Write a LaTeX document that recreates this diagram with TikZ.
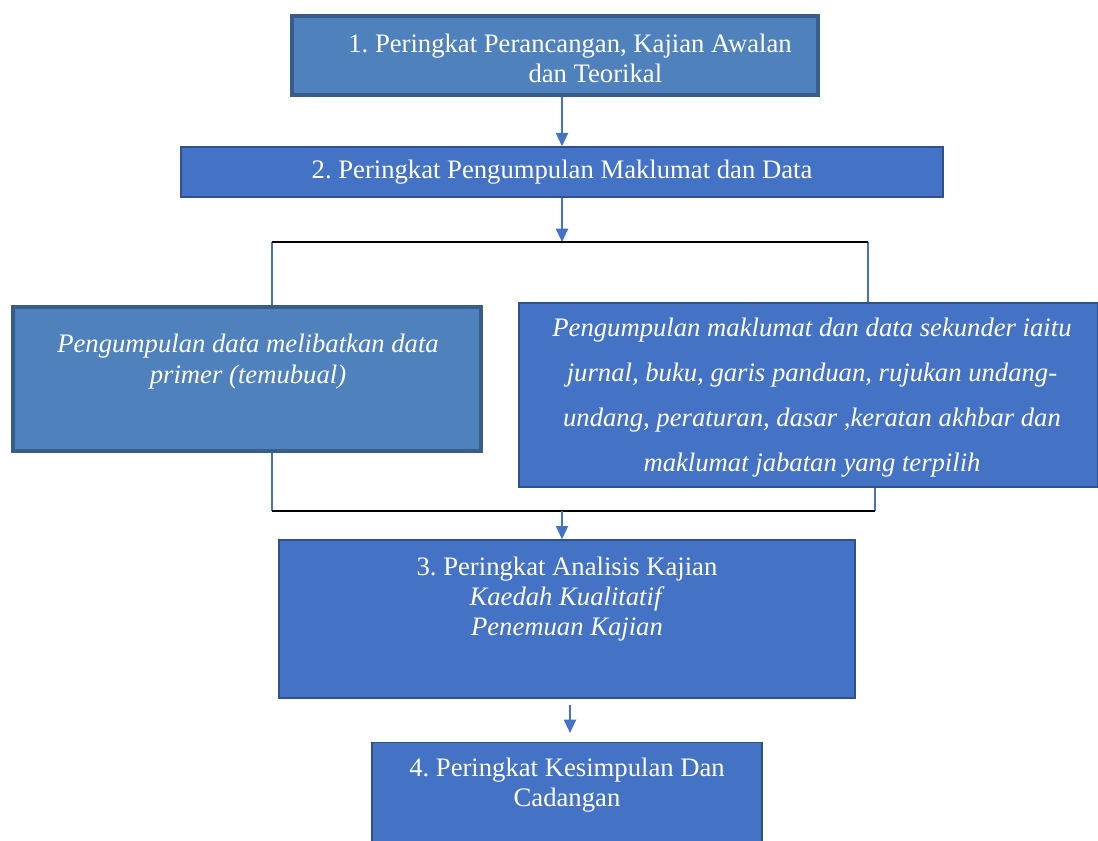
\documentclass[tikz,border=0pt]{standalone}
\usepackage{fontspec}
\newfontfamily\stagefont{Liberation Serif}
\usetikzlibrary{positioning}
\usetikzlibrary{arrows.meta}
\definecolor{boxlight}{RGB}{79,129,189}
\definecolor{boxdark}{RGB}{68,114,196}
\definecolor{edgedark}{RGB}{56,93,138}
\definecolor{edgethin}{RGB}{47,82,143}
\definecolor{linkblue}{RGB}{68,114,196}
\newdimen\pxu \pxu=0.75pt

\begin{document}
\frenchspacing
\begin{tikzpicture}[x=0.75pt, y=-0.75pt, >={Triangle[length=10pt,width=9pt]},
stagebox/.style={draw=edgedark, line width=3pt, fill=boxlight, inner sep=0pt},
stageflat/.style={draw=edgethin, line width=1pt, fill=boxdark, inner sep=0pt},
txt/.style={text=white, font=\stagefont\fontsize{20}{22.5}\selectfont, align=center, inner sep=0pt},
itxt/.style={text=white, font=\stagefont\fontsize{20}{22.5}\selectfont\itshape, align=center, inner sep=0pt},
link/.style={linkblue, line width=1.5pt, ->},
branch/.style={linkblue, line width=0.8pt},
bar/.style={black, line width=1pt}]

\useasboundingbox (0,0) rectangle (1098,841);

%% boxes
\node[stagebox, minimum width=526\pxu, minimum height=79\pxu] (b1) at (555,55.5) {};
\node[txt] (t1) at (570,58) {1. Peringkat Perancangan, Kajian Awalan\\\hspace*{38pt}dan Teorikal};

\node[stageflat, minimum width=762\pxu, minimum height=50\pxu] (b2) at (562,172) {};
\node[txt] (t2) at (b2) {2. Peringkat Pengumpulan Maklumat dan Data};

\node[stagebox, minimum width=468\pxu, minimum height=144\pxu] (bl) at (247,379) {};
\node[itxt, font=\stagefont\fontsize{20}{23.25}\selectfont\itshape] (tl) at (248,362) {Pengumpulan data melibatkan data\\primer (temubual)};

\node[stageflat, minimum width=579\pxu, minimum height=184\pxu] (br) at (808.5,395) {};
\node[itxt, font=\stagefont\fontsize{20}{33.75}\selectfont\itshape] (tr) at (812,398) {Pengumpulan maklumat dan data sekunder iaitu\\jurnal, buku, garis panduan, rujukan undang-\\undang, peraturan, dasar ,keratan akhbar dan\\maklumat jabatan yang terpilih};

\node[stageflat, minimum width=576\pxu, minimum height=158\pxu] (b3) at (567,619) {};
\node[txt, below=17\pxu of b3.north] (t3) {3. Peringkat Analisis Kajian\\\textit{Kaedah Kualitatif}\\\textit{Penemuan Kajian}};

\node[stageflat, minimum width=390\pxu, minimum height=110\pxu, anchor=north] (b4) at (567,742) {};
\node[txt, below=16\pxu of b4.north] (t4) {4. Peringkat Kesimpulan Dan\\Cadangan};

%% junction points
\coordinate (s1) at (562,97);
\coordinate (jt) at (562,242);
\coordinate (jtl) at (272,242);
\coordinate (jtr) at (868,242);
\coordinate (jb) at (562,511);
\coordinate (jbl) at (272,511);
\coordinate (jbr) at (875,511);
\coordinate (a4) at (570,705);
\coordinate (a4e) at (570,733);

%% connectors
\draw[link] (s1) -- (b2.north -| s1);
\draw[link] (b2.south -| jt) -- (jt);
\draw[branch] (jtl) -- (jtl |- bl.north);
\draw[branch] (jtr) -- (jtr |- br.north);
\draw[bar] (jtl) -- (jtr);
\draw[branch] (bl.south -| jbl) -- (jbl);
\draw[branch] (br.south -| jbr) -- (jbr);
\draw[bar] (jbl) -- (jbr);
\draw[link] (jb) -- (b3.north -| jb);
\draw[link] (a4) -- (a4e);
\end{tikzpicture}
\end{document}
